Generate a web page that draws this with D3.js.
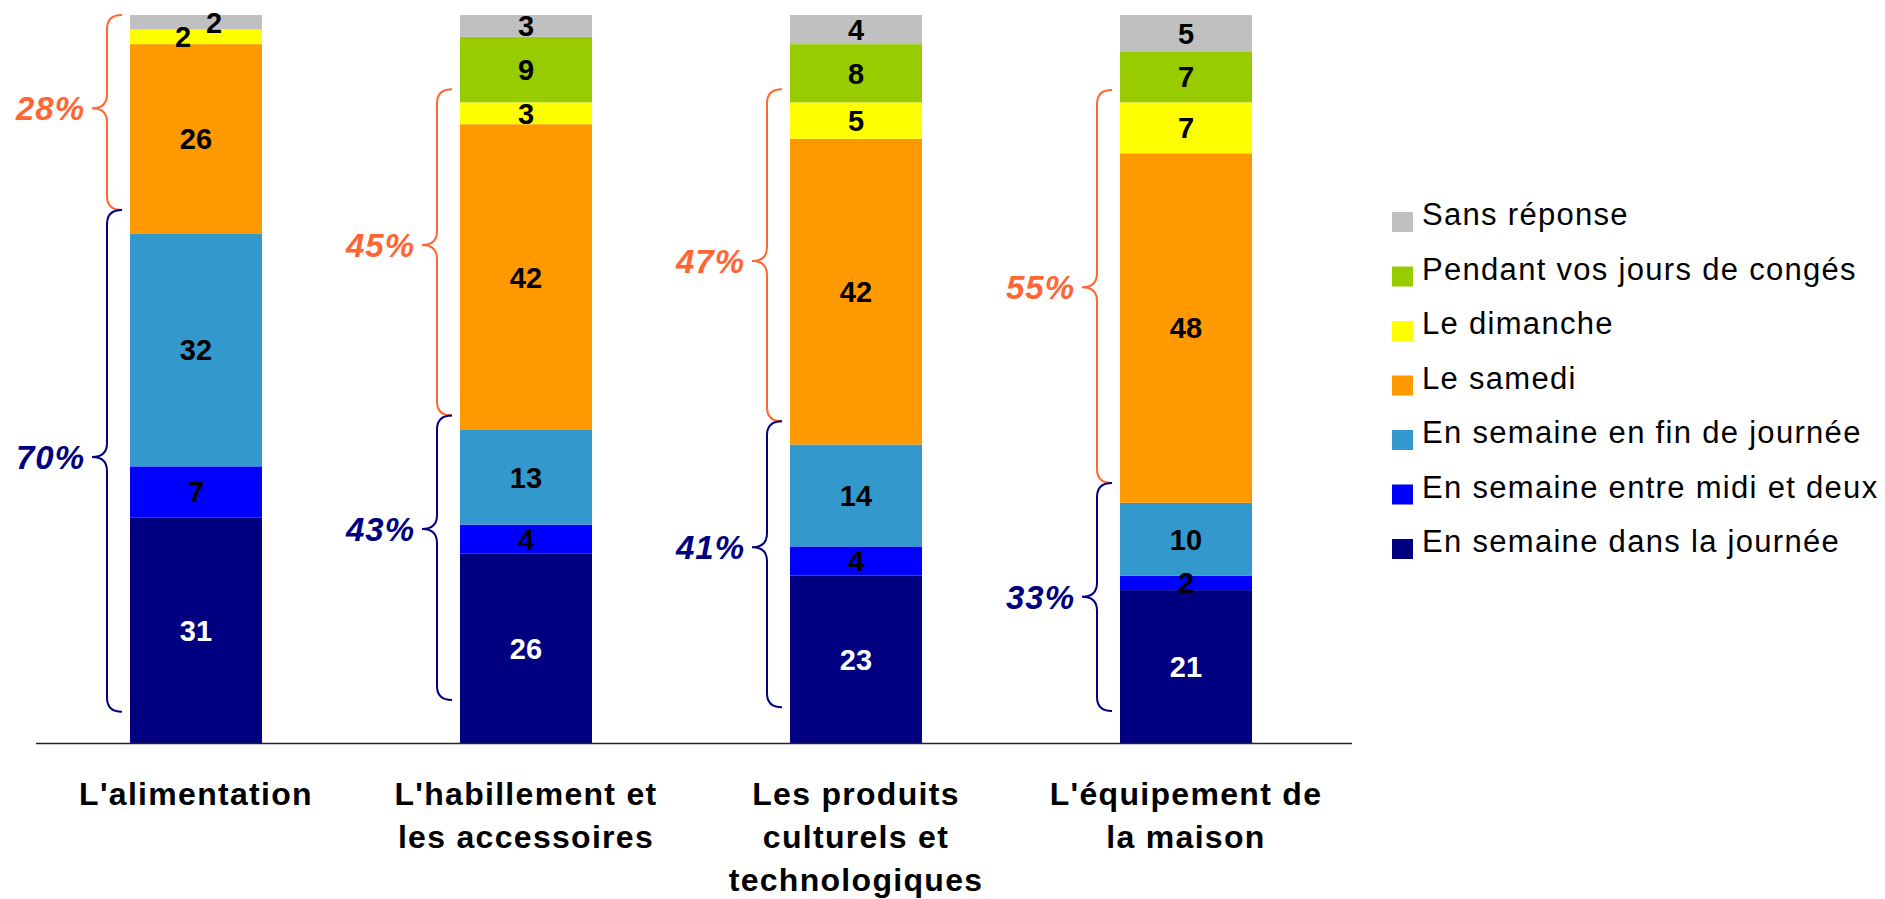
<!DOCTYPE html>
<html>
<head>
<meta charset="utf-8">
<script src="https://cdn.jsdelivr.net/npm/d3@7"></script>
<style>
  body { margin: 0; background: #fff; }
  text { font-family: "Liberation Sans", Arial, sans-serif; }
</style>
</head>
<body>
<div id="chart"></div>
<script>
// categories, one entry per bar (lines as shown under the axis)
var categories = ["alim", "habil", "culture", "maison"];
var categoryLines = [
    ["L'alimentation"],
    ["L'habillement et", "les accessoires"],
    ["Les produits", "culturels et", "technologiques"],
    ["L'équipement de", "la maison"]
];

// series, bottom to top
var seriesNames = [
    "En semaine dans la journée",
    "En semaine entre midi et deux",
    "En semaine en fin de journée",
    "Le samedi",
    "Le dimanche",
    "Pendant vos jours de congés",
    "Sans réponse"
];
var seriesColors = ["#000080", "#0000FF", "#3399CC", "#FF9900", "#FFFF00", "#99CC00", "#C0C0C0"];

var journee     = [31, 26, 23, 21];
var midiDeux    = [7, 4, 4, 2];
var finJournee  = [32, 13, 14, 10];
var samedi      = [26, 42, 42, 48];
var dimanche    = [2, 3, 5, 7];
var conges      = [0, 9, 8, 7];
var sansReponse = [2, 3, 4, 5];

// brace annotations (weekend / weekday totals)
var weekendPct = ["28%", "45%", "47%", "55%"];
var weekdayPct = ["70%", "43%", "41%", "33%"];
var braceTop      = [100, 89.8, 89.8, 89.7];
var braceJoin     = [73.2, 45, 44.2, 35.7];
var braceBottom   = [4.3, 5.9, 4.9, 4.4];
var weekendTip    = [87.2, 68.4, 66.2, 62.6];
var weekdayTip    = [39.3, 29.4, 26.9, 20.1];

var W = 1885, H = 899;
var baseY = 743, topY = 15;

var allSeries = [journee, midiDeux, finJournee, samedi, dimanche, conges, sansReponse];
var table = categories.map(function(c, i) {
    var row = {cat: c};
    seriesNames.forEach(function(s, k) { row[s] = allSeries[k][i]; });
    return row;
});

var stack = d3.stack().keys(seriesNames)(table);

var xscale = d3.scaleBand()
    .domain(categories)
    .range([31, 1351])
    .paddingInner(0.6)
    .paddingOuter(0.3);

var yscale = d3.scaleLinear()
    .domain([0, 100])
    .range([baseY, topY]);

var svg = d3.select("#chart").append("svg")
    .attr("width", W)
    .attr("height", H);

// bars
var layers = svg.selectAll("g.layer")
    .data(stack)
    .enter()
    .append("g")
    .attr("class", "layer")
    .attr("fill", (d, k) => seriesColors[k]);

layers.selectAll("rect")
    .data(d => d)
    .enter()
    .append("rect")
    .attr("x", d => xscale(d.data.cat))
    .attr("width", xscale.bandwidth())
    .attr("y", d => yscale(d[1]))
    .attr("height", d => yscale(d[0]) - yscale(d[1]));

// value labels
stack.forEach(function(layer, k) {
    svg.append("g").selectAll("text")
        .data(layer.filter(d => d[1] - d[0] > 0))
        .enter()
        .append("text")
        .attr("x", function(d) {
            var x = xscale(d.data.cat) + xscale.bandwidth() / 2;
            // the two tiny top segments of the first bar are pushed apart
            if (d.data.cat === categories[0] && k === 6) x += 18;
            if (d.data.cat === categories[0] && k === 4) x -= 13;
            return x;
        })
        .attr("y", d => yscale((d[0] + d[1]) / 2))
        .attr("dy", "0.36em")
        .attr("text-anchor", "middle")
        .attr("font-size", 29)
        .attr("font-weight", "bold")
        .attr("fill", k === 0 ? "#fff" : "#000")
        .text(d => d[1] - d[0]);
});

// baseline
svg.append("line")
    .attr("x1", 36).attr("x2", 1352)
    .attr("y1", baseY + 0.5).attr("y2", baseY + 0.5)
    .attr("stroke", "#222")
    .attr("stroke-width", 1.5);

// category labels
categories.forEach(function(c, i) {
    var t = svg.append("text")
        .attr("text-anchor", "middle")
        .attr("font-size", 32)
        .attr("font-weight", "bold")
        .attr("letter-spacing", 1.3)
        .attr("fill", "#000");
    categoryLines[i].forEach(function(line, j) {
        t.append("tspan")
            .attr("x", xscale(c) + xscale.bandwidth() / 2)
            .attr("y", 805 + j * 43)
            .text(line);
    });
});

// braces
function bracePath(xLeft, y0, ym, y1) {
    var xe = xLeft - 8, xv = xLeft - 23, xt = xLeft - 38, r = 14;
    return "M" + xe + "," + y0 +
        " Q" + xv + "," + y0 + " " + xv + "," + (y0 + r) +
        " L" + xv + "," + (ym - r) +
        " Q" + xv + "," + ym + " " + xt + "," + ym +
        " Q" + xv + "," + ym + " " + xv + "," + (ym + r) +
        " L" + xv + "," + (y1 - r) +
        " Q" + xv + "," + y1 + " " + xe + "," + y1;
}

categories.forEach(function(c, i) {
    var xl = xscale(c);
    var groups = [
        {top: braceTop[i], bot: braceJoin[i], tip: weekendTip[i], label: weekendPct[i], color: "#FF6633"},
        {top: braceJoin[i], bot: braceBottom[i], tip: weekdayTip[i], label: weekdayPct[i], color: "#000080"}
    ];
    groups.forEach(function(g) {
        svg.append("path")
            .attr("d", bracePath(xl, yscale(g.top), yscale(g.tip), yscale(g.bot)))
            .attr("fill", "none")
            .attr("stroke", g.color)
            .attr("stroke-width", 2);
        svg.append("text")
            .attr("x", xl - 45)
            .attr("y", yscale(g.tip))
            .attr("dy", "0.36em")
            .attr("text-anchor", "end")
            .attr("font-size", 33)
            .attr("font-weight", "bold")
            .attr("font-style", "italic")
            .attr("letter-spacing", 1)
            .attr("fill", g.color)
            .text(g.label);
    });
});

// legend (top entry = last series)
var legendOrder = seriesNames.slice().reverse();
var legend = svg.append("g").attr("transform", "translate(1392,222)");
var items = legend.selectAll("g")
    .data(legendOrder)
    .enter()
    .append("g")
    .attr("transform", (d, i) => "translate(0," + (i * 54.5) + ")");

items.append("rect")
    .attr("x", 0).attr("y", -10)
    .attr("width", 21).attr("height", 20)
    .attr("fill", d => seriesColors[seriesNames.indexOf(d)]);

items.append("text")
    .attr("x", 30)
    .attr("y", 0)
    .attr("dy", "0.1em")
    .attr("font-size", 31)
    .attr("letter-spacing", 1.3)
    .attr("fill", "#000")
    .text(d => d);
</script>
</body>
</html>
